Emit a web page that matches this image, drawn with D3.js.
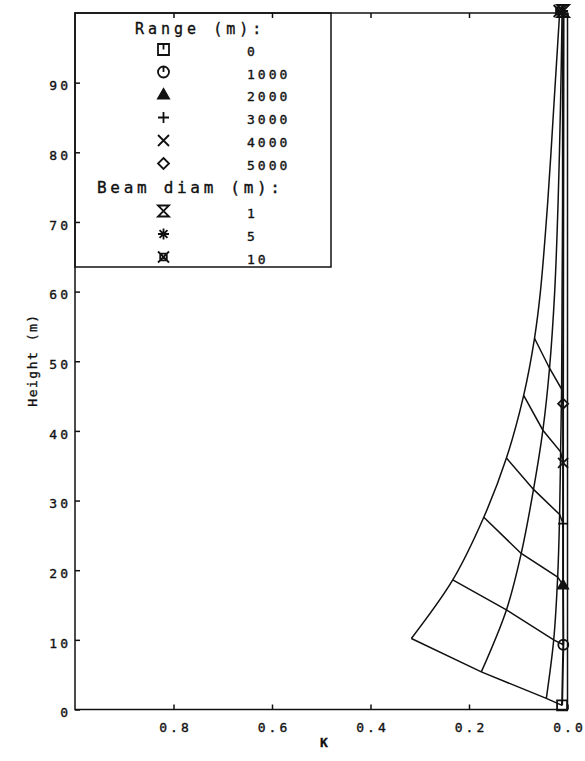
<!DOCTYPE html>
<html>
<head>
<meta charset="utf-8">
<script src="https://cdn.jsdelivr.net/npm/d3@7"></script>
<style>
  body { margin: 0; background: #fff; }
  text { font-family: "DejaVu Sans Mono", "Liberation Mono", monospace; fill: #111; stroke: #111; stroke-width: 0.35px; }
</style>
</head>
<body>
<svg id="chart" width="585" height="761"></svg>
<script>
// ---- data ----
const rangeLabels = [0, 1000, 2000, 3000, 4000, 5000];
const rangeSymbols = ["square", "circle", "triangle", "plus", "cross", "diamond"];
const beamLabels = [1, 5, 10];
const beamSymbols = ["hourglass", "asterisk", "boxcross"];
const kTicks = [0.8, 0.6, 0.4, 0.2, 0.0];
const heightTicks = [0, 10, 20, 30, 40, 50, 60, 70, 80, 90];

// Beam-diameter curves (K, height). The first six points lie on the
// 0 ... 5000 m range lines, the rest carry the curve up to 100 m.
const beam10K = [0.317, 0.233, 0.170, 0.124, 0.089, 0.067, 0.055, 0.040, 0.027, 0.016];
const beam10H = [10.2, 18.6, 27.6, 36.1, 45.1, 53.3, 60.0, 73.0, 87.5, 100.0];
const beam5K  = [0.175, 0.124, 0.094, 0.069, 0.050, 0.0365, 0.026, 0.019, 0.014, 0.011];
const beam5H  = [5.4, 14.3, 22.4, 31.6, 40.1, 49.0, 60.0, 73.0, 87.5, 100.0];
const beam1K  = [0.043, 0.028, 0.020, 0.016, 0.014, 0.012, 0.011, 0.010, 0.010, 0.009];
const beam1H  = [1.6, 10.0, 19.0, 28.0, 37.0, 46.0, 60.0, 73.0, 87.5, 100.0];
// Near-zero K limit; the range markers sit on it
const limitK = [0.011, 0.0085, 0.009, 0.009, 0.009, 0.009, 0.008];
const limitH = [0.6, 9.3, 17.9, 26.7, 35.4, 43.9, 100.0];

// ---- layout ----
const svg = d3.select("#chart");
const L = 75, R = 567.5, T = 13, B = 709.5;
const x = d3.scaleLinear().domain([1, 0]).range([L, R]);
const y = d3.scaleLinear().domain([0, 100]).range([B, T]);
const ink = "#111";
const lw = 1.5;

const zip = (ks, hs) => ks.map((k, i) => [k, hs[i]]);
const beamCurves = [zip(beam1K, beam1H), zip(beam5K, beam5H), zip(beam10K, beam10H)];
const limitLine = zip(limitK, limitH);

// ---- marker shapes ----
function symbolPath(type, s) {
  switch (type) {
    case "square":   return `M${-s},${-s}H${s}V${s}H${-s}Z M0,${-s}V0`;
    case "circle":   return `M${s},0A${s},${s} 0 1,1 ${-s},0A${s},${s} 0 1,1 ${s},0 M0,${-s}V0`;
    case "triangle": return `M0,${-s}L${s},${s * 0.75}L${-s},${s * 0.75}Z`;
    case "plus":     return `M${-s},0H${s}M0,${-s}V${s}`;
    case "cross":    return `M${-s},${-s}L${s},${s}M${s},${-s}L${-s},${s}`;
    case "diamond":  return `M0,${-s}L${s},0L0,${s}L${-s},0Z`;
    case "hourglass":return `M${-s},${-s}H${s}L${-s},${s}H${s}Z`;
    case "asterisk": {
      const d = s * 0.72;
      return `M${-s},0H${s}M0,${-s}V${s}M${-d},${-d}L${d},${d}M${d},${-d}L${-d},${d}`;
    }
    case "boxcross": {
      const q = s * 0.6;
      return `M${-s},${-s}L${s},${s}M${s},${-s}L${-s},${s}M${-q},${-q}H${q}V${q}H${-q}Z`;
    }
  }
}
function drawSymbol(g, type, cx, cy, s) {
  g.append("path")
    .attr("d", symbolPath(type, s))
    .attr("transform", `translate(${cx},${cy})`)
    .attr("fill", type === "triangle" ? ink : "none")
    .attr("stroke", ink)
    .attr("stroke-width", 1.8)
    .attr("stroke-linejoin", "miter");
}

// ---- frame and axes ----
svg.append("rect")
  .attr("x", L).attr("y", T).attr("width", R - L).attr("height", B - T)
  .attr("fill", "none").attr("stroke", ink).attr("stroke-width", lw);

const yAxis = d3.axisLeft(y).tickValues(heightTicks).tickSize(-5).tickPadding(4)
  .tickFormat(d3.format("d"));
const gy = svg.append("g").attr("transform", `translate(${L},0)`).call(yAxis);
gy.select(".domain").remove();
gy.selectAll(".tick line").attr("stroke", ink).attr("stroke-width", lw);
gy.selectAll(".tick text")
  .attr("font-family", null).attr("font-size", 13)
  .style("letter-spacing", "3px")
  .attr("dy", "0.55em").attr("x", -4);

const xAxis = d3.axisBottom(x).tickValues(kTicks).tickSize(-5).tickPadding(13)
  .tickFormat(d3.format(".1f"));
const gx = svg.append("g").attr("transform", `translate(0,${B})`).call(xAxis);
gx.select(".domain").remove();
gx.selectAll(".tick line").attr("stroke", ink).attr("stroke-width", lw);
gx.selectAll(".tick text")
  .attr("font-family", null).attr("font-size", 13)
  .style("letter-spacing", "3px")
  .attr("dx", "1.5px");

const xTop = d3.axisTop(x).tickValues(kTicks).tickSize(-5).tickFormat("");
const gt = svg.append("g").attr("transform", `translate(0,${T})`).call(xTop);
gt.select(".domain").remove();
gt.selectAll(".tick line").attr("stroke", ink).attr("stroke-width", lw);

svg.append("text")
  .attr("x", 324).attr("y", 747)
  .attr("text-anchor", "middle").attr("font-size", 13)
  .attr("font-weight", "bold")
  .text("K");

svg.append("text")
  .attr("transform", `translate(37,360) rotate(-90)`)
  .attr("text-anchor", "middle").attr("font-size", 13)
  .style("letter-spacing", "1.5px")
  .text("Height (m)");

// ---- curves ----
const curveLine = d3.line().x(d => x(d[0])).y(d => y(d[1])).curve(d3.curveCatmullRom.alpha(0.5));
const straight = d3.line().x(d => x(d[0])).y(d => y(d[1]));

const plot = svg.append("g");
beamCurves.forEach(c => {
  plot.append("path").attr("d", curveLine(c))
    .attr("fill", "none").attr("stroke", ink).attr("stroke-width", lw);
});
plot.append("path").attr("d", straight(limitLine))
  .attr("fill", "none").attr("stroke", ink).attr("stroke-width", lw + 0.5);

// constant-range lines across the beam curves
rangeLabels.forEach((r, i) => {
  const pts = [beamCurves[2][i], beamCurves[1][i], beamCurves[0][i], limitLine[i]];
  plot.append("path").attr("d", straight(pts))
    .attr("fill", "none").attr("stroke", ink).attr("stroke-width", lw);
  drawSymbol(plot, rangeSymbols[i], x(limitLine[i][0]), y(limitLine[i][1]), 5);
});

// beam markers where the curves meet at the top
beamLabels.forEach((b, i) => {
  const c = beamCurves[i];
  const p = c[c.length - 1];
  drawSymbol(plot, beamSymbols[i], x(p[0]), y(p[1]) - 2, 6);
});

// ---- legend ----
const lg = svg.append("g");
lg.append("rect")
  .attr("x", L).attr("y", T).attr("width", 256).attr("height", 254)
  .attr("fill", "none").attr("stroke", ink).attr("stroke-width", lw);

lg.append("text").attr("x", 135).attr("y", 34)
  .attr("font-size", 15).style("letter-spacing", "4px")
  .text("Range (m):");
const rowY = [49.5, 72, 94.5, 117.5, 140.5, 163.5];
rangeLabels.forEach((r, i) => {
  drawSymbol(lg, rangeSymbols[i], 163.5, rowY[i], 5.5);
  lg.append("text").attr("x", 247).attr("y", rowY[i] + 6.5)
    .attr("font-size", 13).style("letter-spacing", "3px").text(r);
});

lg.append("text").attr("x", 97).attr("y", 193)
  .attr("font-size", 16).style("letter-spacing", "3.7px")
  .text("Beam diam (m):");
const beamRowY = [211, 234, 257];
beamLabels.forEach((b, i) => {
  drawSymbol(lg, beamSymbols[i], 163.5, beamRowY[i], 5.5);
  lg.append("text").attr("x", 247).attr("y", beamRowY[i] + 6.5)
    .attr("font-size", 13).style("letter-spacing", "3px").text(b);
});
</script>
</body>
</html>
